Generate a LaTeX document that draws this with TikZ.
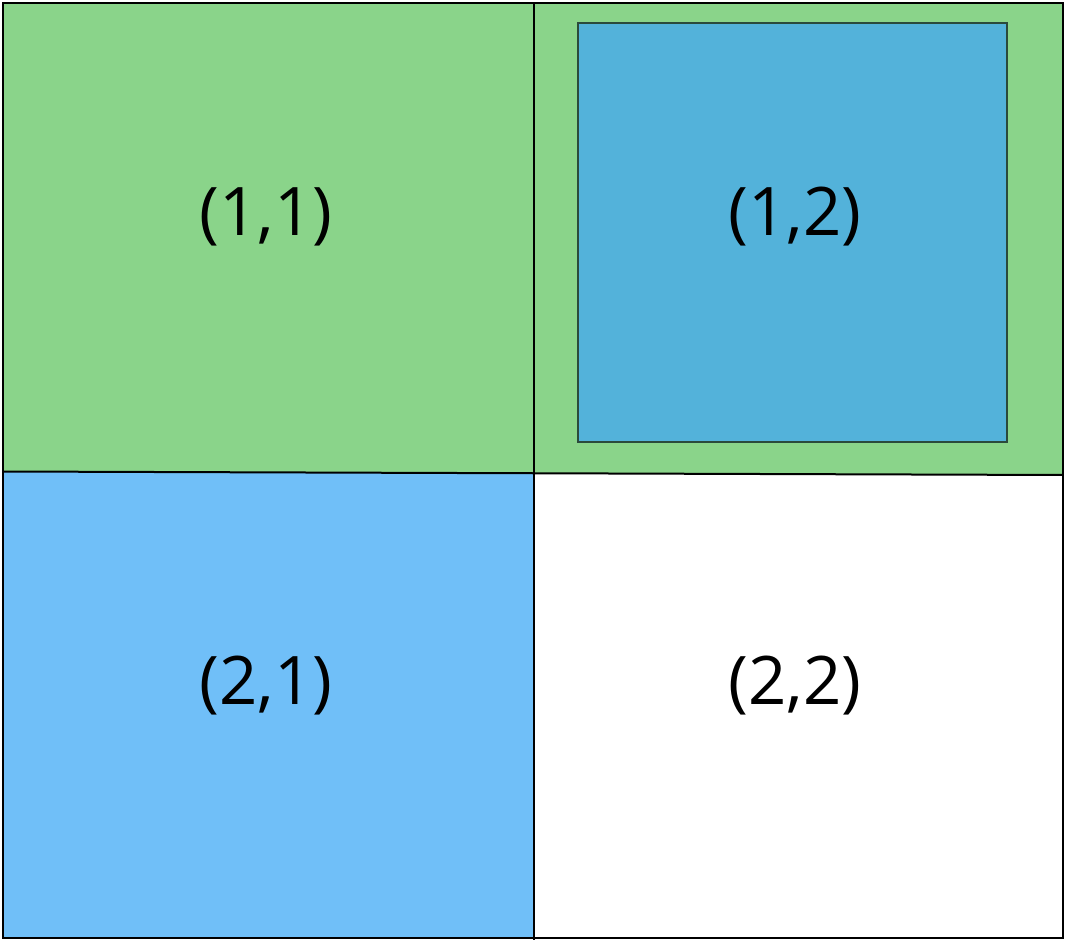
\documentclass[tikz,border=0pt]{standalone}
\usepackage{fontspec}
\setmainfont{Open Sans}
\definecolor{cellgreen}{HTML}{8AD48A}
\definecolor{cellblue}{HTML}{70BFF8}
\definecolor{innerblue}{HTML}{53B2DA}
\definecolor{innerline}{HTML}{2B4A3C}
\begin{document}
\begin{tikzpicture}[x=1pt,y=-1pt,
  gridline/.style={draw=black,line width=2pt},
  celltext/.style={font=\fontsize{67}{70}\selectfont,inner sep=0pt}]
\useasboundingbox (0,0) rectangle (1066,941);
% fills
\fill[cellgreen] (3,3) -- (1063,3) -- (1063,475) -- (534,473) -- (3,471.5) -- cycle;
\fill[cellblue] (3,471.5) -- (534,473) -- (534,938) -- (3,938) -- cycle;
% inner square
\node[draw=innerline,fill=innerblue,line width=2pt,minimum width=429pt,minimum height=419pt,inner sep=0pt,anchor=north west] (inner) at (577,22) {};
% grid
\coordinate (tl) at (3,3);
\coordinate (tr) at (1063,3);
\coordinate (br) at (1063,938);
\coordinate (bl) at (3,938);
\coordinate (ml) at (3,471.5);
\coordinate (mr) at (1063,475);
\coordinate (mt) at (534,3);
\coordinate (mb) at (534,940);
\draw[gridline] (tl) -- (tr) -- (br) -- (bl) -- cycle;
\draw[gridline] (ml) -- (mr);
\draw[gridline] (mt) -- (mb);
% labels
\node[celltext] (c11) at (266,217) {(1,1)};
\node[celltext] (c12) at (795,217) {(1,2)};
\node[celltext] (c21) at (266,686) {(2,1)};
\node[celltext] (c22) at (795,686) {(2,2)};
\end{tikzpicture}
\end{document}
